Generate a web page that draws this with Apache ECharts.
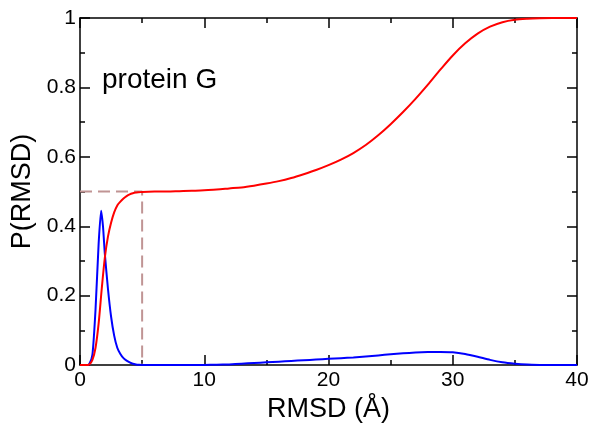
<!DOCTYPE html>
<html>
<head>
<meta charset="utf-8">
<script src="https://cdn.jsdelivr.net/npm/echarts@6/dist/echarts.min.js"></script>
<style>html,body{margin:0;padding:0;background:#fff}#c{width:594px;height:428px}</style>
</head>
<body>
<div id="c"></div>
<script>
var xTicks = [0, 10, 20, 30, 40];
var yTicks = [0, 0.2, 0.4, 0.6, 0.8, 1];
var xAxisName = 'RMSD (Å)';
var yAxisName = 'P(RMSD)';
var labelText = 'protein G';

var cdfX = [0, 0.25, 0.5, 0.75, 1, 1.25, 1.5, 1.75, 2, 2.25, 2.5, 2.75, 3, 3.25, 3.5, 3.75, 4, 4.25, 4.5, 4.75,
  5, 6, 7, 8, 9, 10, 11, 12, 13, 14, 15, 16, 17, 18, 19, 20, 21, 22, 23, 24, 25, 26, 27, 28, 29, 30, 31, 32, 33, 34, 35, 36, 37, 38, 39, 40];
var cdfY = [0, 0, 0, 0.002, 0.015, 0.05, 0.12, 0.22, 0.31, 0.37, 0.41, 0.44, 0.46, 0.471, 0.48, 0.487, 0.492, 0.495, 0.497, 0.498,
  0.499, 0.5, 0.5, 0.501, 0.502, 0.504, 0.506, 0.509, 0.512, 0.517, 0.523, 0.53, 0.539, 0.55, 0.562, 0.576, 0.592, 0.611, 0.634, 0.662, 0.694, 0.729, 0.767, 0.808, 0.851, 0.892, 0.927, 0.955, 0.975, 0.988, 0.995, 0.998, 0.9995, 1, 1, 1];

var pdfX = [0, 0.25, 0.5, 0.75, 1, 1.25, 1.5, 1.7, 1.85, 2, 2.25, 2.5, 2.75, 3, 3.25, 3.5, 3.75, 4, 4.25, 4.5, 4.75,
  5, 6, 7, 8, 9, 10, 11, 12, 13, 14, 15, 16, 17, 18, 19, 20, 21, 22, 23, 24, 25, 26, 27, 28, 29, 30, 31, 32, 33, 34, 35, 36, 37, 38, 39, 40];
var pdfY = [0, 0, 0, 0.003, 0.03, 0.16, 0.35, 0.445, 0.40, 0.32, 0.22, 0.14, 0.085, 0.05, 0.032, 0.02, 0.013, 0.008, 0.004, 0.002, 0.001,
  0.0005, 0, 0, 0, 0, 0.0005, 0.001, 0.002, 0.004, 0.006, 0.008, 0.01, 0.012, 0.014, 0.016, 0.018, 0.02, 0.022, 0.025, 0.028, 0.031, 0.034, 0.036, 0.0375, 0.038, 0.037, 0.032, 0.024, 0.015, 0.008, 0.004, 0.0015, 0.0005, 0, 0, 0];

var guideX = [0, 5, 5];
var guideY = [0.5, 0.5, 0];

function pairs(xs, ys) { return xs.map(function (x, i) { return [x, ys[i]]; }); }

var chart = echarts.init(document.getElementById('c'), null, { renderer: 'canvas' });
var FONT = 'Liberation Sans, Arial, sans-serif';
var axisCommon = {
  type: 'value',
  axisLine: { show: true, onZero: false, lineStyle: { color: '#000', width: 1.5 } },
  axisTick: { show: true, inside: true, length: 10, lineStyle: { color: '#000', width: 1.5 } },
  minorTick: { show: true, splitNumber: 2, length: 5, lineStyle: { color: '#000', width: 1.5 } },
  splitLine: { show: false }
};
function ax(extra) { return Object.assign({}, JSON.parse(JSON.stringify(axisCommon)), extra); }

chart.setOption({
  animation: false,
  backgroundColor: '#fff',
  grid: { left: 80, right: 17, top: 18, bottom: 62 },
  xAxis: [
    ax({ position: 'bottom', min: xTicks[0], max: xTicks[xTicks.length - 1], interval: 10,
      name: xAxisName, nameLocation: 'middle', nameGap: 22,
      nameTextStyle: { fontFamily: FONT, fontSize: 27, color: '#000' },
      axisLabel: { show: true, margin: 5, fontFamily: FONT, fontSize: 21, color: '#000' } }),
    ax({ position: 'top', min: xTicks[0], max: xTicks[xTicks.length - 1], interval: 10,
      axisLabel: { show: false } })
  ],
  yAxis: [
    ax({ position: 'left', min: yTicks[0], max: yTicks[yTicks.length - 1], interval: 0.2,
      name: yAxisName, nameLocation: 'middle', nameGap: 43, nameRotate: 90,
      nameTextStyle: { fontFamily: FONT, fontSize: 27, color: '#000' },
      axisLabel: { show: true, margin: 4, fontFamily: FONT, fontSize: 21, color: '#000' } }),
    ax({ position: 'right', min: yTicks[0], max: yTicks[yTicks.length - 1], interval: 0.2,
      axisLabel: { show: false } })
  ],
  graphic: [{
    type: 'text', left: 102, top: 66,
    style: { text: labelText, font: '28px ' + FONT, fill: '#000' }
  }],
  series: [
    { type: 'line', data: pairs(guideX, guideY), symbol: 'none', silent: true,
      lineStyle: { color: '#c09494', width: 2, type: [12, 6] }, z: 1 },
    { type: 'line', data: pairs(pdfX, pdfY), symbol: 'none', smooth: 0.2,
      lineStyle: { color: '#0000ff', width: 2 }, z: 2 },
    { type: 'line', data: pairs(cdfX, cdfY), symbol: 'none', smooth: 0.3,
      lineStyle: { color: '#ff0000', width: 2 }, z: 3 }
  ]
});
</script>
</body>
</html>
